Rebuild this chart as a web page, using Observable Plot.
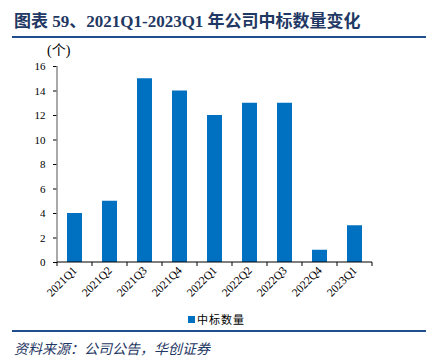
<!DOCTYPE html>
<html><head><meta charset="utf-8">
<script src="https://cdn.jsdelivr.net/npm/d3@7"></script>
<script src="https://cdn.jsdelivr.net/npm/@observablehq/plot@0.6"></script>
<style>
body{margin:0;background:#fff;}
#wrap{position:relative;width:435px;height:363px;overflow:hidden;background:#fff;}
.abs{position:absolute;white-space:nowrap;}
</style></head>
<body><div id="wrap">
<div class="abs" style="left:14px;top:7px;font:bold 17px 'Liberation Serif','Noto Sans CJK SC',serif;color:#1f3864;">图表 59、2021Q1-2023Q1 年公司中标数量变化</div>
<div class="abs" style="left:12px;top:36px;width:414px;height:2px;background:#1f4e8c;"></div>
<div class="abs" style="left:47px;top:43px;font:14px 'Liberation Serif','Noto Sans CJK SC',serif;color:#000;line-height:16px;">(个)</div>
<div id="chart" class="abs" style="left:0;top:40px;"></div>
<div class="abs" style="left:188px;top:311px;font:11px 'Noto Sans CJK SC',sans-serif;color:#000;display:flex;align-items:center;letter-spacing:1px;"><span style="display:inline-block;width:7px;height:7px;background:#0070c0;margin-right:2px;"></span><span id="legtext"></span></div>
<div class="abs" style="left:12px;top:330px;width:414px;height:2px;background:#1f4e8c;"></div>
<div class="abs" style="left:14px;top:338px;font:italic 14px 'Noto Sans CJK SC',sans-serif;color:#1f3864;">资料来源：公司公告，华创证券</div>
</div>
<script>
const quarters = ["2021Q1","2021Q2","2021Q3","2021Q4","2022Q1","2022Q2","2022Q3","2022Q4","2023Q1"];
const counts = [4,5,15,14,12,13,13,1,3];
const yTicks = [0,2,4,6,8,10,12,14,16];
const seriesName = "中标数量";
document.getElementById("legtext").textContent = seriesName;
const data = quarters.map((q,i)=>({q, n: counts[i]}));

const boundaryMark = (index, scales, values, dimensions) => {
  const x = scales.x, y = scales.y;
  const step = x.step();
  const g = d3.create("svg:g");
  const y0 = y(0);
  const left = x(quarters[0]) - (step - x.bandwidth())/2;
  g.append("line").attr("x1", left).attr("x2", left).attr("y1", y(yTicks[yTicks.length-1])).attr("y2", y0)
    .attr("stroke", "#8c8c8c").attr("stroke-width", 1.5);
  const right = left + step*quarters.length;
  g.append("line").attr("x1", left).attr("x2", right).attr("y1", y0).attr("y2", y0).attr("stroke", "#000");
  for (let i = 0; i <= quarters.length; i++) {
    const bx = left + i*step;
    g.append("line").attr("x1", bx).attr("x2", bx).attr("y1", y0).attr("y2", y0+4).attr("stroke", "#000");
  }
  return g.node();
};

const plot = Plot.plot({
  width: 435, height: 260,
  marginTop: 26, marginBottom: 38, marginLeft: 57, marginRight: 62,
  x: {domain: quarters, paddingInner: 0.57, paddingOuter: 0.285, label: null},
  y: {domain: [0, 16], label: null},
  style: {fontFamily: "'Liberation Serif', serif", fontSize: "11px", color: "#000", background: "transparent", overflow: "visible"},
  marks: [
    Plot.barY(data, {x: "q", y: "n", fill: "#0070c0"}),
    Plot.axisY({ticks: yTicks, tickSize: 4, tickPadding: 8, fontSize: 11, stroke: "#000"}),
    Plot.axisX({tickSize: 0, tickRotate: -45, tickPadding: 6, fontSize: 11.5}),
    boundaryMark
  ]
});
document.getElementById("chart").appendChild(plot);
</script>
</body></html>
